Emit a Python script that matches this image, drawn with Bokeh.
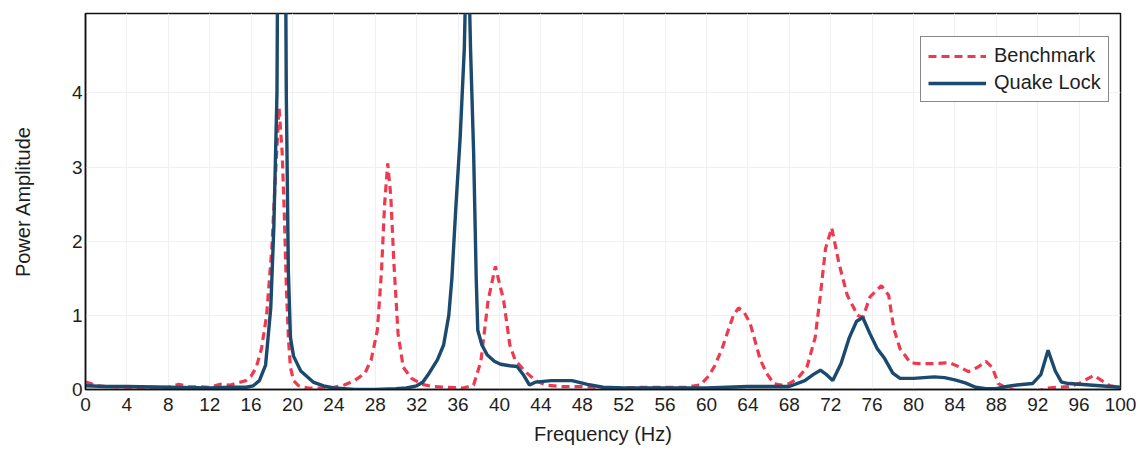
from bokeh.plotting import figure
from bokeh.models import Range1d, FixedTicker, Legend, LegendItem
from bokeh.embed import file_html
from bokeh.resources import INLINE

# Benchmark spectrum (Hz, amplitude)
bench_f = [0, 0.5, 1, 2, 4, 6, 8, 9, 10, 12, 13, 14, 15, 15.5, 16, 16.5, 17, 17.5, 18, 18.4, 18.7,
           19.0, 19.2, 19.4, 19.6, 19.8, 20.1, 20.6, 21.5, 23, 24, 25, 26, 27, 27.6, 28.2, 28.6, 28.9,
           29.2, 29.5, 29.8, 30.2, 30.7, 31.5, 32.5, 33.5, 35, 36.5, 37.5, 38.2, 38.9, 39.6, 40.4, 41.0,
           41.5, 42.5, 43.5, 44.5, 46, 48, 50, 52, 54, 56, 58, 59.4, 60.2, 60.8, 61.5, 62.1, 62.6, 63.1,
           63.6, 64.2, 64.7, 65.2, 65.8, 66.5, 67.2, 68.0, 68.8, 69.7, 70.5, 71.0, 71.5, 72.1, 72.8,
           73.6, 74.6, 75.1, 75.8, 76.9, 77.6, 78.1, 78.7, 79.7, 80.5, 82, 83.5, 84.5, 85.3, 86.2, 87.0,
           87.6, 88.2, 89, 90, 91, 92, 93, 94, 95, 96, 97.4, 98.2, 99, 100]
bench_a = [0.10, 0.08, 0.05, 0.04, 0.03, 0.03, 0.03, 0.07, 0.04, 0.03, 0.07, 0.06, 0.10, 0.12, 0.18,
           0.3, 0.55, 1.0, 1.9, 3.0, 3.8, 3.2, 2.4, 1.4, 0.7, 0.3, 0.12, 0.05, 0.02, 0.02, 0.03, 0.06,
           0.12, 0.22, 0.4, 0.8, 1.6, 2.5, 3.05, 2.6, 1.7, 0.75, 0.3, 0.15, 0.07, 0.04, 0.03, 0.02, 0.06,
           0.38, 1.2, 1.66, 1.2, 0.6, 0.4, 0.24, 0.12, 0.06, 0.04, 0.04, 0.02, 0.02, 0.03, 0.03, 0.03,
           0.06, 0.18, 0.32, 0.55, 0.8, 1.0, 1.1, 1.05, 0.9, 0.65, 0.4, 0.22, 0.08, 0.06, 0.08, 0.15,
           0.3, 0.7, 1.27, 1.9, 2.18, 1.7, 1.27, 1.0, 0.97, 1.25, 1.4, 1.27, 0.82, 0.55, 0.36, 0.35,
           0.35, 0.36, 0.3, 0.24, 0.3, 0.38, 0.3, 0.08, 0.02, -0.02, -0.02, -0.02, 0.02, 0.03, 0.04,
           0.08, 0.19, 0.12, 0.05, 0.03]

# Quake Lock spectrum (Hz, amplitude)
quake_f = [0, 2, 4, 8, 12, 14, 15.5, 16.2, 16.8, 17.4, 17.9, 18.2, 18.5, 18.8, 19.1, 19.4, 19.6, 19.8,
           20.1, 20.8, 22, 23, 24, 26, 28, 30, 31, 32, 32.6, 33.2, 34.0, 34.6, 35.1, 35.4, 35.8, 36.2,
           36.6, 36.9, 37.2, 37.5, 37.75, 37.9, 38.3, 38.8, 39.5, 40.1, 41.0, 41.7, 42.3, 42.9, 43.5,
           45, 47, 48.5, 50, 52, 56, 60, 64, 66, 68, 69.5, 70.3, 71.0, 71.6, 72.2, 73.0, 73.8, 74.5,
           75.1, 75.8, 76.5, 77.2, 78.0, 78.7, 80, 82, 83, 84, 85, 86, 87, 88, 89, 90, 91.5, 92.3, 93.0,
           93.7, 94.3, 95, 97, 98, 99, 100]
quake_a = [0.05, 0.04, 0.04, 0.03, 0.02, 0.03, 0.03, 0.05, 0.12, 0.33, 1.1, 2.2, 4.0, 12.0, 12.0, 4.0,
           1.6, 0.7, 0.45, 0.25, 0.1, 0.05, 0.02, 0.0, 0.0, 0.01, 0.02, 0.05, 0.1, 0.22, 0.4, 0.6, 1.0,
           1.5, 2.5, 3.4, 4.6, 6.5, 4.6, 3.2, 1.5, 0.8, 0.6, 0.47, 0.38, 0.34, 0.32, 0.31, 0.2, 0.06,
           0.1, 0.12, 0.12, 0.07, 0.03, 0.02, 0.02, 0.02, 0.04, 0.04, 0.04, 0.12, 0.2, 0.26, 0.2, 0.12,
           0.35, 0.7, 0.92, 0.97, 0.75, 0.55, 0.42, 0.22, 0.15, 0.15, 0.17, 0.16, 0.13, 0.09, 0.03,
           0.01, 0.01, 0.04, 0.06, 0.08, 0.2, 0.53, 0.25, 0.1, 0.08, 0.06, 0.05, 0.04, 0.03]

x_ticks = list(range(0, 101, 4))
y_ticks = [0, 1, 2, 3, 4]

FONT = "Liberation Sans"

p = figure(width=1141, height=476, output_backend="svg", toolbar_location=None,
           x_range=Range1d(0, 100), y_range=Range1d(0, 5.07),
           min_border_left=85, min_border_right=21, min_border_top=13, min_border_bottom=87)

p.background_fill_color = "white"
p.border_fill_color = "white"
p.outline_line_color = "#111111"
p.outline_line_width = 1.5

p.xgrid.grid_line_color = "#f0f0f0"
p.ygrid.grid_line_color = "#f0f0f0"

for ax in (p.xaxis[0], p.yaxis[0]):
    ax.axis_line_color = "#111111"
    ax.axis_line_width = 1.5
    ax.major_tick_line_color = None
    ax.minor_tick_line_color = None
    ax.major_tick_out = 0
    ax.major_tick_in = 0
    ax.major_label_text_font = FONT
    ax.major_label_text_font_size = "19px"
    ax.major_label_text_color = "#1e1e1e"
    ax.axis_label_text_font = FONT
    ax.axis_label_text_font_size = "20px"
    ax.axis_label_text_font_style = "normal"
    ax.axis_label_text_color = "#1e1e1e"

p.xaxis.ticker = FixedTicker(ticks=x_ticks)
p.yaxis.ticker = FixedTicker(ticks=y_ticks)
p.xaxis.axis_label = "Frequency (Hz)"
p.yaxis.axis_label = "Power Amplitude"
p.xaxis.major_label_standoff = 8
p.xaxis.axis_label_standoff = 9
p.yaxis.major_label_standoff = 3
p.yaxis.axis_label_standoff = 35

r_bench = p.line(bench_f, bench_a, line_color="#ee3a4f", line_width=3.2, line_dash="8 5")
r_quake = p.line(quake_f, quake_a, line_color="#1b4a6e", line_width=3.4)

legend = Legend(items=[LegendItem(label="Benchmark", renderers=[r_bench]),
                       LegendItem(label="Quake Lock", renderers=[r_quake])],
                location=(835, 287))
legend.border_line_color = "#111111"
legend.border_line_width = 1.3
legend.label_text_font = FONT
legend.label_text_font_size = "20px"
legend.label_text_color = "#1e1e1e"
legend.glyph_width = 58
legend.glyph_height = 22
legend.label_height = 22
legend.label_standoff = 8
legend.spacing = 4
legend.padding = 7
legend.margin = 0
legend.background_fill_alpha = 1
p.add_layout(legend)

open("out.html", "w").write(file_html(p, INLINE))
